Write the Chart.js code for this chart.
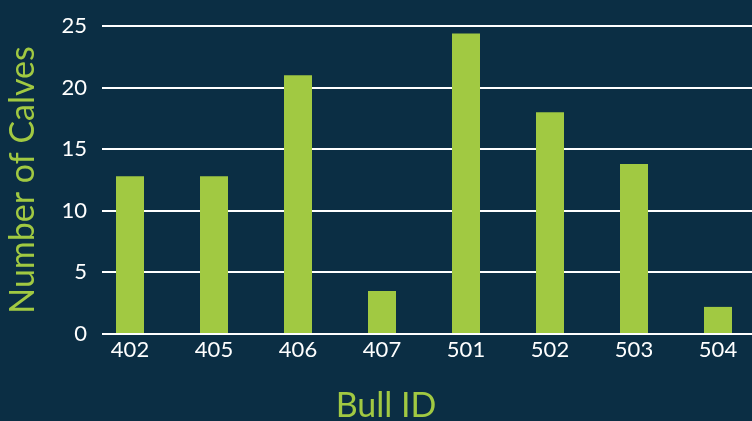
<!DOCTYPE html>
<html>
<head>
<meta charset="utf-8">
<script src="https://cdn.jsdelivr.net/npm/chart.js@4"></script>
<style>
  html, body { margin: 0; padding: 0; background: #0b2e44; overflow: hidden; }
  #wrap { width: 760px; height: 421px; }
</style>
</head>
<body>
<div id="wrap"><canvas id="calvesChart" width="760" height="421"></canvas></div>
<script>
// Chart data
const bullIds = ['402', '405', '406', '407', '501', '502', '503', '504'];
const calves = [12.8, 12.8, 21, 3.5, 24.4, 18, 13.8, 2.2];
const yTicks = [0, 5, 10, 15, 20, 25];

const bg = '#0b2e44';
const green = '#a1c942';
const fontFamily = 'Lato, "Open Sans", sans-serif';

// Gridlines start a little right of the axis labels in the original
const gridGap = {
  id: 'gridGap',
  beforeDatasetsDraw(chart) {
    const { ctx, chartArea } = chart;
    ctx.save();
    ctx.fillStyle = bg;
    ctx.fillRect(chartArea.left, chartArea.top - 4, 14, chartArea.bottom - chartArea.top + 8);
    ctx.restore();
  }
};

// x axis title, centred under the visible page rather than the plot
const xTitle = {
  id: 'xTitle',
  afterDraw(chart) {
    const { ctx } = chart;
    ctx.save();
    ctx.fillStyle = green;
    ctx.font = '34px ' + fontFamily;
    ctx.textAlign = 'center';
    ctx.textBaseline = 'middle';
    ctx.fillText('Bull ID', 386, 406);
    ctx.restore();
  }
};

const ctx = document.getElementById('calvesChart').getContext('2d');
new Chart(ctx, {
  type: 'bar',
  data: {
    labels: bullIds,
    datasets: [{
      label: 'Number of Calves',
      data: calves,
      backgroundColor: green,
      borderWidth: 0,
      categoryPercentage: 1,
      barPercentage: 1 / 3
    }]
  },
  options: {
    responsive: false,
    animation: false,
    layout: { padding: { top: 26, right: 0, left: 0, bottom: 0 } },
    plugins: {
      legend: { display: false },
      tooltip: { enabled: false }
    },
    scales: {
      x: {
        grid: { display: false, drawTicks: false },
        border: { display: false },
        ticks: {
          color: '#ffffff',
          font: { family: fontFamily, size: 22 },
          padding: 3,
          maxRotation: 0
        },
        afterFit(scale) { scale.height = 87; }
      },
      y: {
        min: 0,
        max: 25,
        afterBuildTicks(scale) {
          scale.ticks = yTicks.map(v => ({ value: v }));
        },
        grid: { color: '#ffffff', lineWidth: 2, drawTicks: false },
        border: { display: false },
        ticks: {
          color: '#ffffff',
          font: { family: fontFamily, size: 22 },
          padding: 1
        },
        title: {
          display: true,
          text: 'Number of Calves',
          color: green,
          font: { family: fontFamily, size: 34 },
          padding: { top: 3, bottom: 0 }
        },
        afterFit(scale) { scale.width = 88; }
      }
    }
  },
  plugins: [gridGap, xTitle]
});
</script>
</body>
</html>
